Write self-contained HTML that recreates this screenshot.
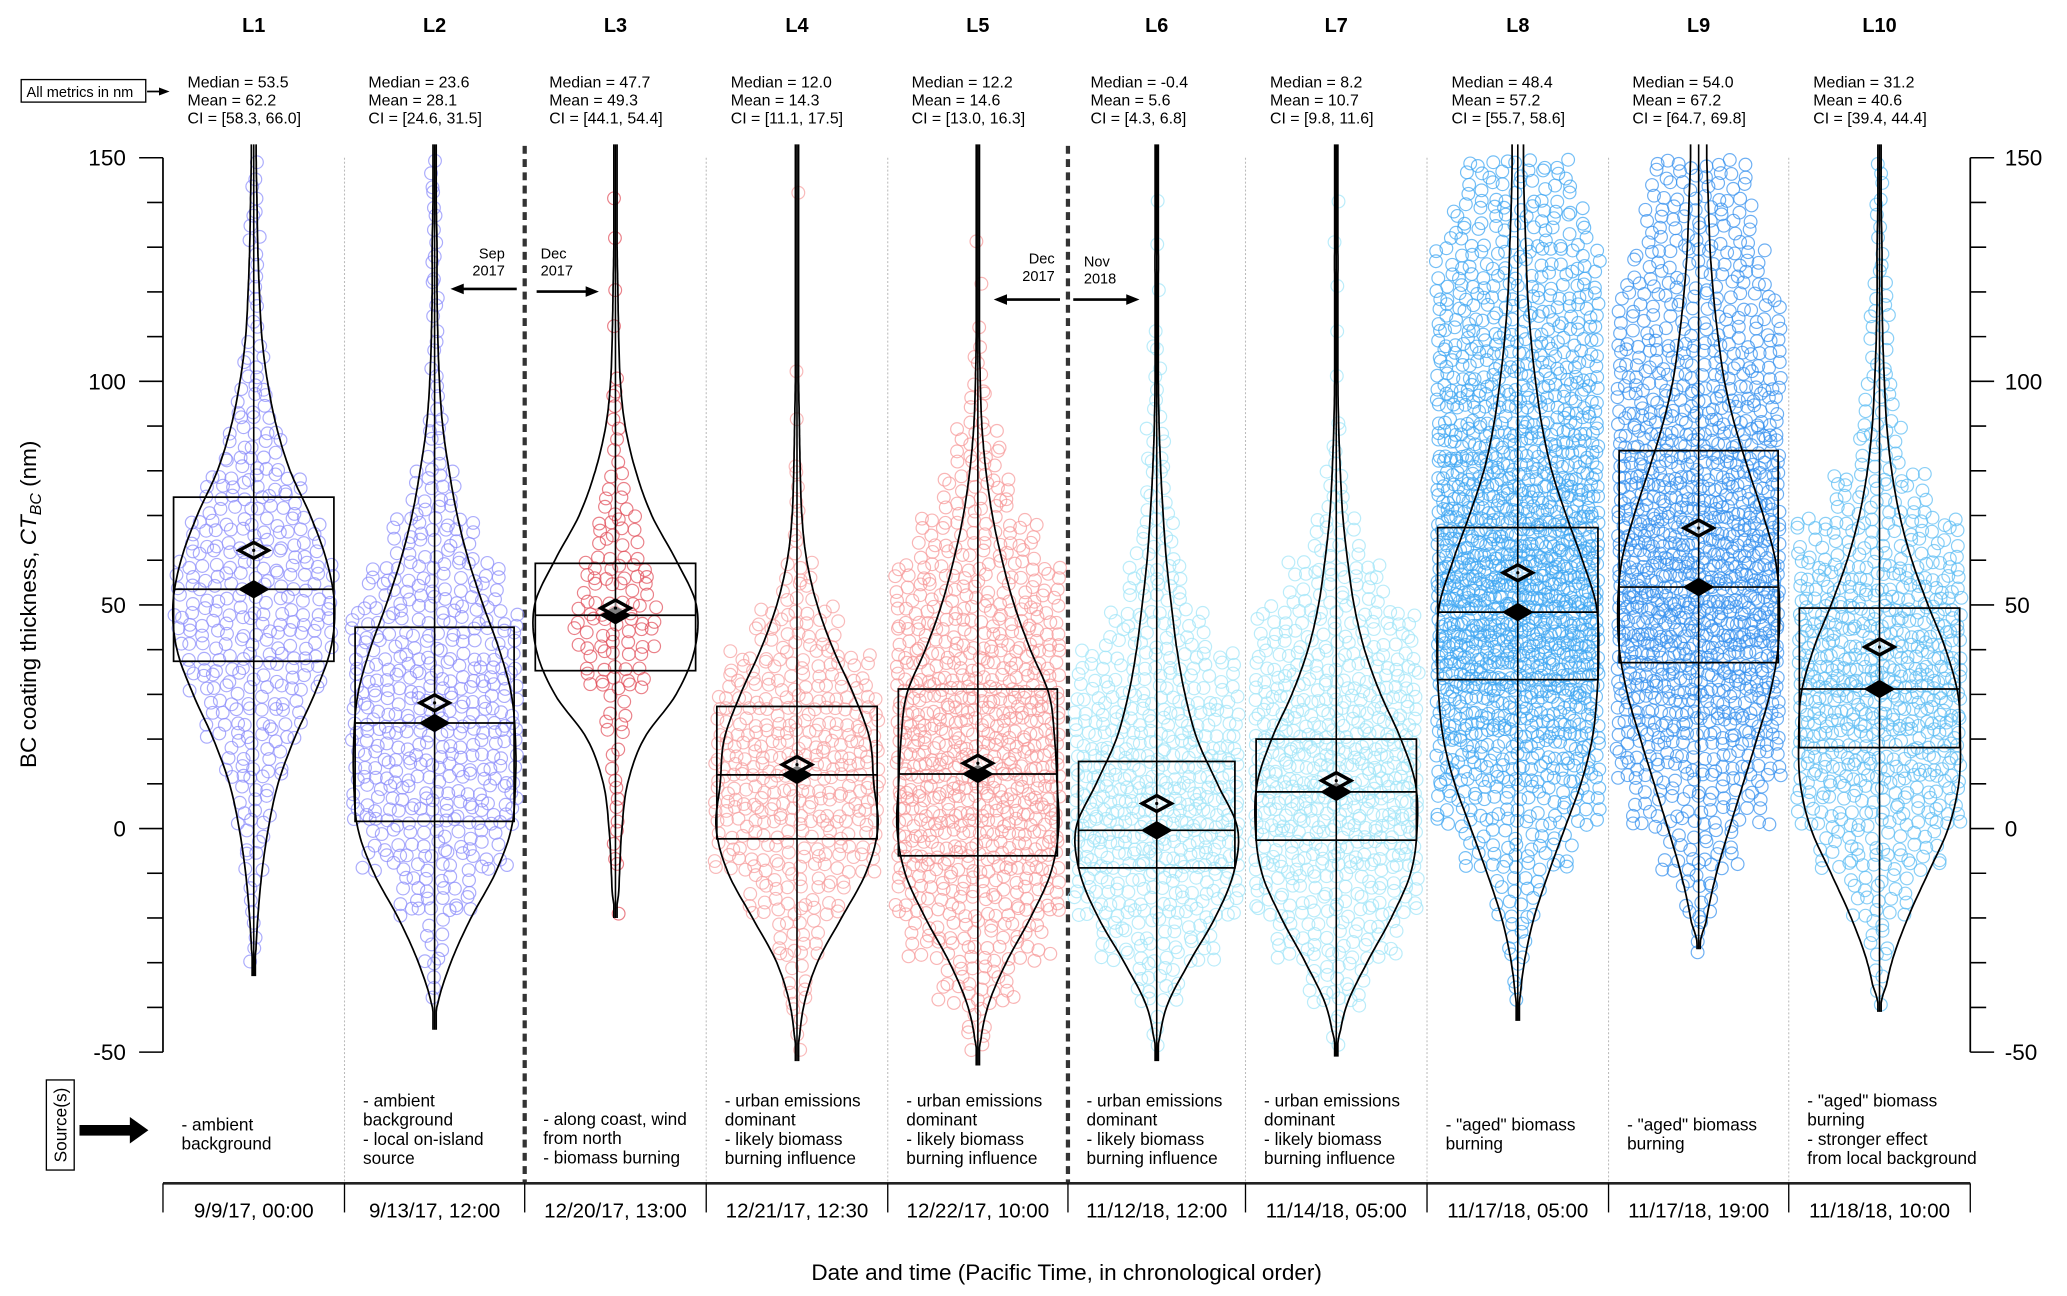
<!DOCTYPE html>
<html><head><meta charset="utf-8"><style>
html,body{margin:0;padding:0;background:#fff;}
svg{display:block;font-family:"Liberation Sans",Arial,sans-serif;}
</style></head><body>
<svg id="chart" width="2067" height="1296" viewBox="0 0 1560 978" xmlns="http://www.w3.org/2000/svg">
<g id="static">
<rect x="16" y="60" width="94" height="17" fill="#fff" stroke="#000" stroke-width="1"/>
<text x="20" y="73" font-size="11">All metrics in nm</text>
<line x1="111" y1="69" x2="122" y2="69" stroke="#000" stroke-width="1.3"/>
<polygon points="120,66 128,69 120,72" fill="#000"/>
<text transform="translate(27,456) rotate(-90)" font-size="17" text-anchor="middle">BC coating thickness, <tspan font-style="italic">CT</tspan><tspan font-style="italic" font-size="12" dy="4">BC</tspan><tspan dy="-4"> (nm)</tspan></text>
<text x="805" y="966" font-size="17" text-anchor="middle">Date and time (Pacific Time, in chronological order)</text>
<rect x="35" y="815" width="21" height="68" fill="#fff" stroke="#000" stroke-width="1"/>
<text transform="translate(50,849) rotate(-90)" font-size="13" text-anchor="middle">Source(s)</text>
<rect x="60" y="849" width="40" height="8" fill="#000"/>
<polygon points="98,843 112,853 98,863" fill="#000"/>
<g font-size="11">
<text x="381" y="195" text-anchor="end">Sep</text><text x="381" y="208" text-anchor="end">2017</text>
<line x1="390" y1="218" x2="348" y2="218" stroke="#000" stroke-width="2"/><polygon points="350,214 340,218 350,222" fill="#000"/>
<text x="408" y="195">Dec</text><text x="408" y="208">2017</text>
<line x1="405" y1="220" x2="444" y2="220" stroke="#000" stroke-width="2"/><polygon points="442,216 452,220 442,224" fill="#000"/>
<text x="796" y="199" text-anchor="end">Dec</text><text x="796" y="212" text-anchor="end">2017</text>
<line x1="800" y1="226" x2="758" y2="226" stroke="#000" stroke-width="2"/><polygon points="760,222 750,226 760,230" fill="#000"/>
<text x="818" y="201">Nov</text><text x="818" y="214">2018</text>
<line x1="810" y1="226" x2="851" y2="226" stroke="#000" stroke-width="2"/><polygon points="850,222 860,226 850,230" fill="#000"/>
</g>
</g>
<g id="plot"></g>
</svg>
<script>
const labels = ["L1","L2","L3","L4","L5","L6","L7","L8","L9","L10"];
const medians = [53.5,23.6,47.7,12.0,12.2,-0.4,8.2,48.4,54.0,31.2];
const means = [62.2,28.1,49.3,14.3,14.6,5.6,10.7,57.2,67.2,40.6];
const ciLow = ["58.3","24.6","44.1","11.1","13.0","4.3","9.8","55.7","64.7","39.4"];
const ciHigh = ["66.0","31.5","54.4","17.5","16.3","6.8","11.6","58.6","69.8","44.4"];
const q1 = [37.4,1.6,35.3,-2.3,-6.1,-8.8,-2.6,33.3,37.1,18.1];
const q3 = [74.1,45.0,59.3,27.3,31.2,15.0,20.0,67.3,84.5,49.3];
const mins = [-33,-45,-20,-52,-53,-52,-51,-43,-27,-41];
const dates = ["9/9/17, 00:00","9/13/17, 12:00","12/20/17, 13:00","12/21/17, 12:30","12/22/17, 10:00","11/12/18, 12:00","11/14/18, 05:00","11/17/18, 05:00","11/17/18, 19:00","11/18/18, 10:00"];
const sources = [["- ambient","background"],["- ambient","background","- local on-island","source"],["- along coast, wind","from north","- biomass burning"],["- urban emissions","dominant","- likely biomass","burning influence"],["- urban emissions","dominant","- likely biomass","burning influence"],["- urban emissions","dominant","- likely biomass","burning influence"],["- urban emissions","dominant","- likely biomass","burning influence"],["- \"aged\" biomass","burning"],["- \"aged\" biomass","burning"],["- \"aged\" biomass","burning","- stronger effect","from local background"]];
const colors = ["#8a8cfb","#8a8cfb","#e2505c","#f7a0a0","#f79898","#9fe4f8","#9fe4f8","#3fa6f2","#3590ef","#5cbdf4"];
// violin density (relative, 0..1) at -50,-40,...,150
const densVals = [-50,-40,-30,-20,-10,0,10,20,30,40,50,60,70,80,90,100,110,120,130,140,150];
const violin = [
 [0,0,0.02,0.05,0.1,0.18,0.3,0.5,0.75,0.95,1,0.9,0.7,0.45,0.28,0.17,0.1,0.07,0.05,0.04,0.03],
 [0,0.03,0.2,0.45,0.75,0.95,1,1,0.95,0.8,0.6,0.42,0.28,0.18,0.1,0.06,0.04,0.03,0.03,0.02,0.02],
 [0,0,0,0.03,0.05,0.08,0.15,0.35,0.75,0.98,1,0.75,0.45,0.25,0.12,0.06,0.04,0.03,0.02,0.02,0.02],
 [0.02,0.08,0.25,0.55,0.85,1,0.95,0.9,0.7,0.45,0.25,0.12,0.06,0.04,0.03,0.02,0.02,0.02,0.02,0.02,0.02],
 [0.02,0.12,0.35,0.65,0.9,1,0.98,0.95,0.88,0.65,0.45,0.3,0.18,0.1,0.05,0.03,0.02,0.02,0.02,0.02,0.02],
 [0.02,0.12,0.4,0.72,0.95,1,0.75,0.5,0.35,0.25,0.18,0.12,0.08,0.05,0.03,0.02,0.02,0.02,0.02,0.01,0.01],
 [0.02,0.12,0.38,0.68,0.92,1,0.98,0.8,0.55,0.35,0.22,0.14,0.08,0.05,0.03,0.02,0.02,0.02,0.02,0.01,0.01],
 [0,0.02,0.08,0.2,0.38,0.58,0.78,0.92,0.98,1,0.97,0.8,0.6,0.42,0.3,0.22,0.16,0.12,0.1,0.08,0.07],
 [0,0,0.03,0.1,0.22,0.38,0.55,0.72,0.88,0.98,1,0.95,0.8,0.62,0.45,0.32,0.24,0.18,0.14,0.12,0.1],
 [0,0.04,0.15,0.35,0.6,0.85,0.98,1,0.97,0.82,0.6,0.4,0.25,0.15,0.09,0.06,0.04,0.03,0.03,0.02,0.02]
];
// circle counts per 10 nm bin, bins starting -50,-40,...,140
const counts = [
 [0,0,2,3,6,12,20,32,44,52,52,44,32,20,12,6,4,4,5,4],
 [0,2,8,25,45,60,64,64,62,56,42,28,16,7,5,3,3,3,2,2],
 [0,0,0,1,2,2,4,8,18,26,24,16,9,4,3,1,1,1,1,1],
 [2,6,15,30,55,70,74,68,48,26,10,4,2,1,1,1,0,0,0,1],
 [6,25,45,65,85,95,95,95,85,72,58,38,24,14,6,2,1,1,1,0],
 [4,15,40,65,85,95,85,72,52,33,20,13,9,6,4,2,1,1,1,1],
 [4,20,40,60,80,95,95,85,68,52,32,16,6,2,1,1,1,1,1,1],
 [0,2,6,15,35,60,90,120,150,170,170,150,130,110,95,85,70,60,45,35],
 [0,0,3,10,25,45,70,95,120,140,140,130,115,100,85,70,55,45,35,30],
 [0,3,8,20,40,65,85,100,105,95,80,55,30,15,10,8,6,5,4,3]
];
const bounds = [123,260,396,533,670,806,940,1077,1214,1350,1487];
const yTicksMajor = [150,100,50,0,-50];
const yTickLabels = ["150","100","50","0","-50"];

const NS="http://www.w3.org/2000/svg";
const plot=document.getElementById('plot');
const Y0=119,Y1=794,VMAX=150,VMIN=-50;
function y(v){return Y0+(VMAX-v)*(Y1-Y0)/(VMAX-VMIN);}
function cx(i){return (bounds[i]+bounds[i+1])/2;}
function mk(tag,attrs,parent){const e=document.createElementNS(NS,tag);for(const k in attrs)e.setAttribute(k,attrs[k]);(parent||plot).appendChild(e);return e;}

const axL=mk('g',{});


const axR=mk('g',{});


mk('line',{x1:123,y1:y(150),x2:123,y2:y(-50),stroke:'#000','stroke-width':1.3},axL);
mk('line',{x1:1487,y1:y(150),x2:1487,y2:y(-50),stroke:'#000','stroke-width':1.3},axR);
for(let v=-50;v<=150;v+=10){
  const maj=(v%50===0);
  mk('line',{x1:123-(maj?18:12),y1:y(v),x2:123,y2:y(v),stroke:'#000','stroke-width':1.2},axL);
  mk('line',{x1:1487,y1:y(v),x2:1487+(maj?18:12),y2:y(v),stroke:'#000','stroke-width':1.2},axR);
}
yTicksMajor.forEach((v,k)=>{
  const t1=mk('text',{x:95,y:y(v)+6,'font-size':17,'text-anchor':'end'},axL);t1.textContent=yTickLabels[k];
  
  
  const t2=mk('text',{x:1513,y:y(v)+6,'font-size':17},axR);t2.textContent=yTickLabels[k];
  
  
});

for(let b=1;b<bounds.length-1;b++){
  const thick=(b===2||b===5);
  const s=mk('line',{x1:bounds[b],y1:thick?110:119,x2:bounds[b],y2:893,stroke:thick?'#333':'#bbb','stroke-width':thick?3.2:0.8,'stroke-dasharray':thick?'6,4':'1.5,1.5'});
  
  
}
const base=mk('line',{x1:123,y1:893,x2:1487,y2:893,stroke:'#222','stroke-width':2});


bounds.forEach(b=>{mk('line',{x1:b,y1:893,x2:b,y2:915,stroke:'#000','stroke-width':1});});

// deterministic jitter (layout only, not data)
function jit(a,b){const s=Math.sin(a*12.9898+b*78.233)*43758.5453;return s-Math.floor(s)-0.5;}

const rowsPerBin=4;
labels.forEach((lab,i)=>{
  const c=cx(i);
  const g=mk('g',{});
  
  
  const pts=mk('g',{fill:'none',stroke:colors[i],'stroke-width':0.9,'stroke-opacity':0.72},g);
  
  
  counts[i].forEach((n,b)=>{
    if(!n)return;
    const lo=-50+b*10;
    for(let r=0;r<rowsPerBin;r++){
      const m=Math.round(n/rowsPerBin + (r<(n%rowsPerBin)?0.5:0));
      if(m<=0)continue;
      let sp=9.5; if((m-1)*sp>120) sp=120/(m-1);
      for(let k=0;k<m;k++){
        const v=lo+(r+0.5)*10/rowsPerBin + jit(i*100+b,r*50+k)*2.2;
        let xx=c+(k-(m-1)/2)*sp+jit(k+r*7,b+i*3)*sp*0.6;
        mk('circle',{cx:xx.toFixed(1),cy:y(v).toFixed(1),r:4.8},pts);
      }
    }
  });
  mk('line',{x1:c,y1:y(mins[i]),x2:c,y2:y(153),stroke:'#000','stroke-width':1.2},g);
  const bx=mk('rect',{x:bounds[i]+8,y:y(q3[i]),width:bounds[i+1]-bounds[i]-16,height:y(q1[i])-y(q3[i]),fill:'none',stroke:'#000','stroke-width':1.3},g);
  
  
  mk('line',{x1:bounds[i]+8,y1:y(medians[i]),x2:bounds[i+1]-8,y2:y(medians[i]),stroke:'#000','stroke-width':1.3},g);
  // violin via Catmull-Rom through the density samples
  const W=61;
  const d=violin[i];
  function hw(v){
    v=Math.min(Math.max(v,-50),150);
    let k=Math.floor((v+50)/10); if(k>=20)k=19;
    const t=(v+50)/10-k;
    const p0=d[Math.max(k-1,0)],p1=d[k],p2=d[k+1],p3=d[Math.min(k+2,20)];
    const r=0.5*((2*p1)+(-p0+p2)*t+(2*p0-5*p1+4*p2-p3)*t*t+(-p0+3*p1-3*p2+p3)*t*t*t);
    return Math.max(0,r)*W;
  }
  let right=[],left=[];
  for(let v=mins[i];v<=153;v+=1){
    const w=Math.max(1.2,hw(v)*Math.min(1,(v-mins[i])/6+0.05));
    right.push((c+w).toFixed(1)+','+y(v).toFixed(1));
    left.unshift((c-w).toFixed(1)+','+y(v).toFixed(1));
  }
  const vp=mk('polyline',{points:right.join(' '),fill:'none',stroke:'#000','stroke-width':1.3},g);
  
  
  const vl=mk('polyline',{points:left.join(' '),fill:'none',stroke:'#000','stroke-width':1.3},g);
  
  
  const ym=y(medians[i]);
  const md=mk('polygon',{points:`${c-12},${ym} ${c},${ym-7} ${c+12},${ym} ${c},${ym+7}`,fill:'#000'},g);
  
  
  const ya=y(means[i]);
  const mn=mk('polygon',{points:`${c-11},${ya} ${c},${ya-6} ${c+11},${ya} ${c},${ya+6}`,fill:'#fff','fill-opacity':0.5,stroke:'#000','stroke-width':2.6},g);
  
  
  mk('circle',{cx:c,cy:ya,r:1.2,fill:'#000'},g);
  const t=mk('text',{x:c,y:24,'font-size':15,'font-weight':'bold','text-anchor':'middle'});
  t.textContent=lab;
  
  
  const st=mk('text',{x:c-50,y:66,'font-size':12});
  
  
  const lines=['Median = '+medians[i].toFixed(1),'Mean = '+means[i].toFixed(1),'CI = ['+ciLow[i]+', '+ciHigh[i]+']'];
  lines.forEach((l,k)=>{const ts=mk('tspan',{x:c-50,dy:k?13.5:0},st);ts.textContent=l;});
  const src=sources[i];
  const sx=bounds[i]+14;
  const y0s={2:853,3:849,4:835}[src.length];
  const sg=mk('text',{x:sx,y:y0s,'font-size':13});
  
  
  src.forEach((l,k)=>{const ts=mk('tspan',{x:sx,dy:k?14.5:0},sg);ts.textContent=l;});
  const dt=mk('text',{x:c,y:919,'font-size':15.5,'text-anchor':'middle'});
  dt.textContent=dates[i];
  
  
});
</script>
</body></html>
